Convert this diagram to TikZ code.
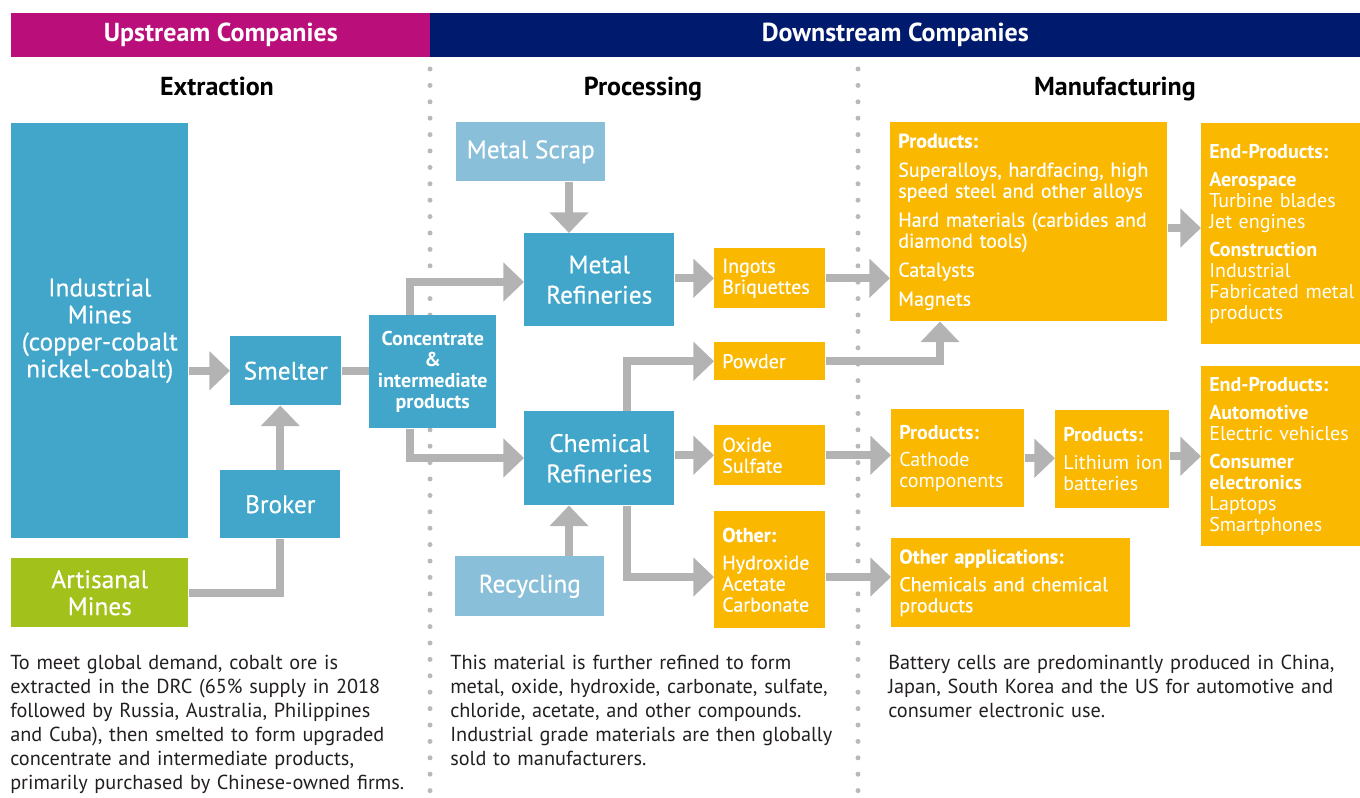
\documentclass[tikz,border=0pt]{standalone}
\usepackage{fontspec}
\setmainfont{PT Sans}
\newfontfamily\medfont{PT Sans}[FakeBold=0.4]
\usetikzlibrary{arrows.meta}

\definecolor{upmagenta}{RGB}{186,15,123}
\definecolor{downnavy}{RGB}{0,27,110}
\definecolor{cobaltblue}{RGB}{65,166,201}
\definecolor{paleblue}{RGB}{137,191,217}
\definecolor{minegreen}{RGB}{162,193,26}
\definecolor{ochre}{RGB}{250,184,0}
\definecolor{flowgray}{RGB}{179,179,179}
\definecolor{dotgray}{RGB}{185,185,185}
\definecolor{notetext}{RGB}{35,31,32}

\begin{document}
\begin{tikzpicture}[x=0.75pt,y=-0.75pt,
    wh/.style 2 args={minimum width=#1*0.75pt, minimum height=#2*0.75pt},
    bar/.style={anchor=north west, inner sep=0pt, text=white, font=\fontsize{19.5}{22}\selectfont\bfseries},
    heading/.style={anchor=base, font=\fontsize{19.5}{22}\selectfont\bfseries},
    bluebox/.style={anchor=north west, inner sep=0pt, fill=cobaltblue, text=white, align=center, font=\medfont\fontsize{19}{20.25}\selectfont},
    orangebox/.style={anchor=north west, inner xsep=6pt, inner ysep=0pt, fill=ochre, text=white, align=left, font=\fontsize{15}{15.75}\selectfont},
    medium/.style={font=\medfont\fontsize{15}{15.75}\selectfont},
    flow/.style={draw=flowgray, line width=6.2pt, -{Triangle[width=28.5pt,length=15.5pt]}},
    feed/.style={draw=flowgray, line width=6.2pt},
    note/.style={anchor=north west, inner sep=0pt, align=left, text=notetext, font=\fontsize{15.2}{18}\selectfont}
  ]
  \useasboundingbox (0,0) rectangle (1360,798);

  % Header bars
  \node[bar, fill=upmagenta, wh={419}{44}] (up) at (11,13) {Upstream Companies};
  \node[bar, fill=downnavy, wh={930}{44}] (down) at (430,13) {Downstream Companies};

  % Stage titles
  \node[heading] (extr) at (217,96) {Extraction};
  \node[heading] (proc) at (643,96) {Processing};
  \node[heading] (manu) at (1115,96) {Manufacturing};

  % Dotted separators
  \foreach \x in {430, 858}
    \draw[dotgray, line width=3.75pt, line cap=round, dash pattern=on 0pt off 12.3pt] (\x,69) -- (\x,798);

  % Extraction
  \node[bluebox, wh={177}{415}] (ind) at (11,123) {Industrial\\Mines\\(copper-cobalt\\nickel-cobalt)};
  \node[bluebox, fill=minegreen, wh={177}{69}] (art) at (11,558) {Artisanal\\Mines};
  \node[bluebox, wh={111}{69}] (smelt) at (230,336) {Smelter};
  \node[bluebox, wh={120}{68}] (broker) at (220,470) {Broker};
  \node[bluebox, wh={127}{113}, font=\fontsize{15}{15.75}\selectfont\bfseries] (conc) at (369,315) {Concentrate\\\&\\intermediate\\products};

  % Processing
  \node[bluebox, fill=paleblue, wh={149}{59}] (scrap) at (456,122) {Metal Scrap};
  \node[bluebox, wh={150}{93}] (metal) at (524,233) {Metal\\[2.5pt]Refineries};
  \node[bluebox, wh={150}{94}] (chem) at (524,411) {Chemical\\[2.5pt]Refineries};
  \node[bluebox, fill=paleblue, wh={149}{60}] (recyc) at (455,556) {Recycling};
  \node[orangebox, medium, wh={111}{60}, text width=71.25pt] (ingots) at (714,248) {Ingots\\Briquettes};
  \node[orangebox, medium, wh={111}{38}, text width=71.25pt] (powder) at (714,342) {Powder};
  \node[orangebox, medium, wh={111}{60}, text width=71.25pt] (oxide) at (714,425) {Oxide\\Sulfate};
  \node[orangebox, medium, wh={111}{117}, text width=71.25pt] (other) at (714,511)
    {\textbf{Other:}\\[5pt]Hydroxide\\Acetate\\Carbonate};

  % Manufacturing
  \node[orangebox, medium, wh={277}{199}, text width=195.75pt] (prods) at (890,122)
    {\textbf{Products:}\\[6pt]Superalloys, hardfacing, high\\speed steel and other alloys\\[6pt]Hard materials (carbides and\\diamond tools)\\[6pt]Catalysts\\[6pt]Magnets};
  \node[orangebox, wh={159}{221}, text width=107.25pt] (end1) at (1201,123)
    {\textbf{End-Products:}\\[5pt]\textbf{Aerospace}\\Turbine blades\\Jet engines\\[5pt]\textbf{Construction}\\Industrial\\\mbox{Fabricated metal}\\products};
  \node[orangebox, wh={159}{180}, text width=107.25pt] (end2) at (1201,366)
    {\textbf{End-Products:}\\[5pt]\textbf{Automotive}\\\mbox{Electric vehicles}\\[5pt]\textbf{Consumer}\\\textbf{electronics}\\Laptops\\Smartphones};
  \node[orangebox, wh={133}{98}, text width=87.75pt] (cath) at (891,409) {\textbf{Products:}\\[5pt]Cathode\\components};
  \node[orangebox, wh={114}{98}, text width=73.5pt] (lith) at (1055,410) {\textbf{Products:}\\[5pt]\mbox{Lithium ion}\\batteries};
  \node[orangebox, medium, wh={239}{89}, text width=167.25pt] (otherapp) at (891,538)
    {\textbf{Other applications:}\\[5pt]Chemicals and chemical\\products};

  % Bend points
  \coordinate (toMetal) at (410,282);
  \coordinate (toChem) at (410,458);
  \coordinate (scrapX) at (569,0);
  \coordinate (toPowder) at (627,361);
  \coordinate (toOther) at (627,577);
  \coordinate (toProds) at (940,361);
  \coordinate (toEnd) at (0,228);

  % Flows
  \draw[flow] (ind.east |- smelt.west) -- (smelt.west);
  \draw[flow] (broker.north) -- (smelt.south -| broker.north);
  \draw[feed] (art.east) -| (broker.south);
  \draw[feed] (smelt.east) -- (conc.west |- smelt.east);
  \draw[flow] (conc.north -| toMetal) |- (metal.west |- toMetal);
  \draw[flow] (conc.south -| toChem) |- (chem.west |- toChem);
  \draw[flow] (scrap.south -| scrapX) -- (metal.north -| scrapX);
  \draw[flow] (recyc.north -| scrapX) -- (chem.south -| scrapX);
  \draw[flow] (metal.east |- ingots.west) -- (ingots.west);
  \draw[flow] (chem.east |- oxide.west) -- (oxide.west);
  \draw[flow] (chem.north -| toPowder) |- (powder.west);
  \draw[flow] (chem.south -| toOther) |- (other.west |- toOther);
  \foreach \a/\b in {ingots/prods, oxide/cath, cath/lith}
    \draw[flow] (\a.east) -- (\b.west |- \a.east);
  \draw[flow] (powder.east) -| (prods.south -| toProds);
  \draw[flow] (other.east |- toOther) -- (otherapp.west |- toOther);
  \draw[flow] (prods.east |- toEnd) -- (end1.west |- toEnd);
  \draw[flow] (lith.east |- end2.west) -- (end2.west);

  % Notes
  \node[note, text width=330pt] (noteExtr) at (10,655)
    {To meet global demand, cobalt ore is\\extracted in the DRC (65\% supply in 2018\\followed by Russia, Australia, Philippines\\and Cuba), then smelted to form upgraded\\concentrate and intermediate products,\\primarily purchased by Chinese-owned firms.};
  \node[note, text width=320pt] (noteProc) at (450,655)
    {This material is further refined to form\\metal, oxide, hydroxide, carbonate, sulfate,\\chloride, acetate, and other compounds.\\Industrial grade materials are then globally\\sold to manufacturers.};
  \node[note, text width=360pt] (noteManu) at (888,655)
    {Battery cells are predominantly produced in China,\\Japan, South Korea and the US for automotive and\\consumer electronic use.};
\end{tikzpicture}
\end{document}
